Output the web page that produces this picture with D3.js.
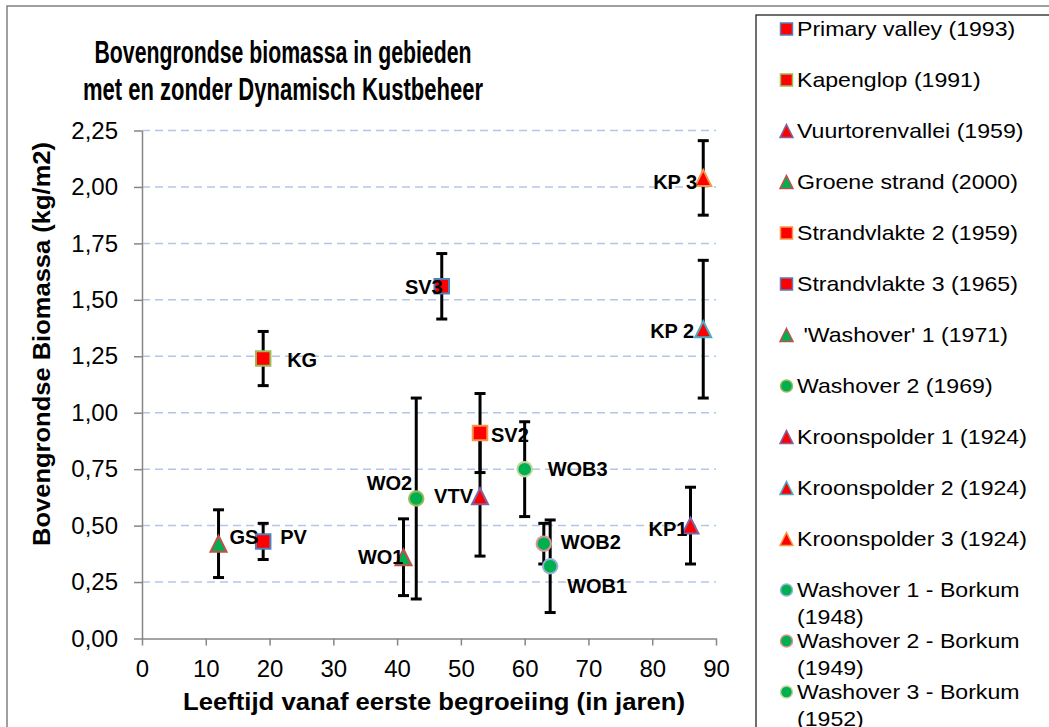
<!DOCTYPE html>
<html>
<head>
<meta charset="utf-8">
<script src="https://cdn.jsdelivr.net/npm/d3@7"></script>
<style>
  body { margin: 0; background: #fff; }
  svg { display: block; font-family: "Liberation Sans", Arial, sans-serif; }
</style>
</head>
<body>
<svg width="1049" height="727"></svg>
<script>
// sites, in legend order
var sites = ["Primary valley (1993)", "Kapenglop (1991)", "Vuurtorenvallei (1959)", "Groene strand (2000)",
  "Strandvlakte 2 (1959)", "Strandvlakte 3 (1965)", " 'Washover' 1 (1971)", "Washover 2 (1969)",
  "Kroonspolder 1 (1924)", "Kroonspolder 2 (1924)", "Kroonspolder 3 (1924)",
  "Washover 1 - Borkum (1948)", "Washover 2 - Borkum (1949)", "Washover 3 - Borkum (1952)"];
var labels = ["PV", "KG", "VTV", "GS", "SV2", "SV3", "WO1", "WO2", "KP1", "KP 2", "KP 3", "WOB1", "WOB2", "WOB3"];
var ages = [19, 19, 53, 12, 53, 47, 41, 43, 86, 88, 88, 64, 63, 60];           // jaren
var biomass = [0.43, 1.24, 0.63, 0.42, 0.91, 1.56, 0.36, 0.62, 0.50, 1.37, 2.04, 0.32, 0.42, 0.75]; // kg/m2
var errors = [0.08, 0.12, 0.265, 0.15, 0.175, 0.145, 0.17, 0.445, 0.17, 0.305, 0.165, 0.205, 0.09, 0.21];
var xTicks = [0, 10, 20, 30, 40, 50, 60, 70, 80, 90];
var yTicks = [0, 0.25, 0.5, 0.75, 1, 1.25, 1.5, 1.75, 2, 2.25];

// marker look per site
var shapes = ["square", "square", "triangle", "triangle", "square", "square", "triangle", "circle",
  "triangle", "triangle", "triangle", "circle", "circle", "circle"];
var fills = ["#ff0000", "#ff0000", "#ff0000", "#00b050", "#ff0000", "#ff0000", "#00b050", "#00b050",
  "#ff0000", "#ff0000", "#ff0000", "#00b050", "#00b050", "#00b050"];
var strokes = ["#4f81bd", "#9bbb59", "#8064a2", "#c0504d", "#f79646", "#4f81bd", "#c0504d", "#9bbb59",
  "#8064a2", "#4bacc6", "#f79646", "#95b3d7", "#d99694", "#c3d69b"];
// where the data label sits next to its marker
var labelAnchor = ["start", "start", "end", "start", "start", "end", "end", "end", "end", "end", "end", "start", "start", "start"];
var labelDx = [17, 24, -7, 11, 11, 1, 0, -4, -3, -9, -6, 17, 17, 23];
var labelDy = [-4, 1, 0, -7, 2, 1, 0, -16, 3, 2, 4, 20, -2, 0];

var svg = d3.select("svg");
var nl = d3.formatLocale({ decimal: ",", thousands: ".", grouping: [3], currency: ["", ""] });
var fmt = nl.format(".2f");

var x = d3.scaleLinear().domain([0, 90]).range([142, 716]);
var y = d3.scaleLinear().domain([0, 2.25]).range([638.5, 130.5]);

// stretch text horizontally, the original fonts are a bit wider
function stretch(sel, k) {
  sel.each(function() {
    var w = this.getComputedTextLength();
    d3.select(this).attr("textLength", w * k).attr("lengthAdjust", "spacingAndGlyphs");
  });
}

// outer chart border
svg.append("rect")
  .attr("x", 7).attr("y", 6).attr("width", 1100).attr("height", 800)
  .attr("fill", "none").attr("stroke", "#808080").attr("stroke-width", 1.5);

// title
var titleLines = ["Bovengrondse biomassa in gebieden", "met en zonder Dynamisch Kustbeheer"];
var titleWidths = [377, 400];
svg.selectAll(".title")
  .data(titleLines)
  .enter()
  .append("text")
    .attr("class", "title")
    .attr("x", 283)
    .attr("y", function(d, i) { return 63 + i * 37; })
    .attr("text-anchor", "middle")
    .style("font-family", '"Liberation Sans Narrow", "Arial Narrow", "Liberation Sans", Arial, sans-serif')
    .style("font-weight", "bold")
    .style("font-size", "31px")
    .attr("textLength", function(d, i) { return titleWidths[i]; })
    .attr("lengthAdjust", "spacingAndGlyphs")
    .text(function(d) { return d; });

// gridlines
svg.append("g")
  .selectAll("line")
  .data(yTicks.filter(function(d) { return d > 0; }))
  .enter()
  .append("line")
    .attr("x1", x(0)).attr("x2", x(90))
    .attr("y1", function(d) { return y(d); })
    .attr("y2", function(d) { return y(d); })
    .attr("stroke", "#b4c6e7")
    .attr("stroke-width", 1.5)
    .attr("stroke-dasharray", "8,5");

// axes
var yAxis = d3.axisLeft(y).tickValues(yTicks).tickSize(8).tickSizeOuter(0).tickPadding(16).tickFormat(fmt);
var xAxis = d3.axisBottom(x).tickValues(xTicks).tickSize(7).tickSizeOuter(0).tickPadding(14);

var gy = svg.append("g").attr("transform", "translate(" + x(0) + ",0)").call(yAxis);
var gx = svg.append("g").attr("transform", "translate(0," + y(0) + ")").call(xAxis);
[gx, gy].forEach(function(g) {
  g.selectAll("path, line").attr("stroke", "#868686").attr("stroke-width", 1.5);
  g.selectAll("text").attr("fill", "#000")
    .style("font-family", '"Liberation Sans", Arial, sans-serif')
    .style("font-size", "24px");
});

// axis titles
svg.append("text")
  .attr("x", 434).attr("y", 710)
  .attr("text-anchor", "middle")
  .style("font-weight", "bold").style("font-size", "24px")
  .attr("textLength", 502).attr("lengthAdjust", "spacingAndGlyphs")
  .text("Leeftijd vanaf eerste begroeiing (in jaren)");

svg.append("text")
  .attr("transform", "translate(50,344) rotate(-90)")
  .attr("text-anchor", "middle")
  .style("font-weight", "bold").style("font-size", "24px")
  .attr("textLength", 404).attr("lengthAdjust", "spacingAndGlyphs")
  .text("Bovengrondse Biomassa (kg/m2)");

// triangle centred on its bounding box, like the spreadsheet marker
var triangleBox = {
  draw: function(context, size) {
    var s = Math.sqrt(size);
    context.moveTo(0, -s / 2);
    context.lineTo(s / 2, s / 2);
    context.lineTo(-s / 2, s / 2);
    context.closePath();
  }
};
function markerPath(shape, side) {
  if (shape === "square") return d3.symbol(d3.symbolSquare, side * side)();
  if (shape === "circle") return d3.symbol(d3.symbolCircle, Math.PI * side * side / 4)();
  return d3.symbol(triangleBox, side * side)();
}

var idx = d3.range(sites.length);

// error bars
var bars = svg.append("g").selectAll("g")
  .data(idx)
  .enter()
  .append("g")
    .attr("stroke", "#000")
    .attr("stroke-width", 3);
bars.append("line")
  .attr("x1", function(i) { return x(ages[i]); })
  .attr("x2", function(i) { return x(ages[i]); })
  .attr("y1", function(i) { return y(biomass[i] - errors[i]); })
  .attr("y2", function(i) { return y(biomass[i] + errors[i]); });
[-1, 1].forEach(function(sign) {
  bars.append("line")
    .attr("x1", function(i) { return x(ages[i]) - 5.5; })
    .attr("x2", function(i) { return x(ages[i]) + 5.5; })
    .attr("y1", function(i) { return y(biomass[i] + sign * errors[i]); })
    .attr("y2", function(i) { return y(biomass[i] + sign * errors[i]); });
});

// markers
svg.append("g").selectAll("path")
  .data(idx)
  .enter()
  .append("path")
    .attr("transform", function(i) { return "translate(" + x(ages[i]) + "," + y(biomass[i]) + ")"; })
    .attr("d", function(i) { return markerPath(shapes[i], shapes[i] === "triangle" ? 16 : 14.5); })
    .attr("fill", function(i) { return fills[i]; })
    .attr("stroke", function(i) { return strokes[i]; })
    .attr("stroke-width", 2);

// data labels
svg.append("g").selectAll("text")
  .data(idx)
  .enter()
  .append("text")
    .attr("x", function(i) { return x(ages[i]) + labelDx[i]; })
    .attr("y", function(i) { return y(biomass[i]) + labelDy[i]; })
    .attr("dy", "0.35em")
    .attr("text-anchor", function(i) { return labelAnchor[i]; })
    .style("font-weight", "bold")
    .style("font-size", "20px")
    .text(function(i) { return labels[i]; });

// legend
svg.append("rect")
  .attr("x", 756).attr("y", 15).attr("width", 400).attr("height", 800)
  .attr("fill", "#fff").attr("stroke", "#222").attr("stroke-width", 1.3);

var legend = svg.append("g").selectAll("g")
  .data(idx)
  .enter()
  .append("g")
    .attr("transform", function(i) { return "translate(0," + (29 + i * 51) + ")"; });

legend.append("path")
  .attr("transform", "translate(786.5,0)")
  .attr("d", function(i) { return markerPath(shapes[i], shapes[i] === "triangle" ? 13 : 12); })
  .attr("fill", function(i) { return fills[i]; })
  .attr("stroke", function(i) { return strokes[i]; })
  .attr("stroke-width", 1.5);

legend.each(function(i) {
  var g = d3.select(this);
  var name = sites[i];
  var lines = [name];
  var probe = g.append("text").style("font-size", "21px").style("white-space", "pre").text(name);
  if (probe.node().getComputedTextLength() * 1.1 > 243) {
    var cut = name.lastIndexOf(" ");
    lines = [name.slice(0, cut), name.slice(cut + 1)];
  }
  probe.remove();
  lines.forEach(function(line, k) {
    g.append("text")
      .attr("x", 797)
      .attr("y", k * 26.7)
      .attr("dy", "0.35em")
      .style("font-size", "21px")
      .style("white-space", "pre")
      .text(line)
      .call(stretch, 1.1);
  });
});
</script>
</body>
</html>
